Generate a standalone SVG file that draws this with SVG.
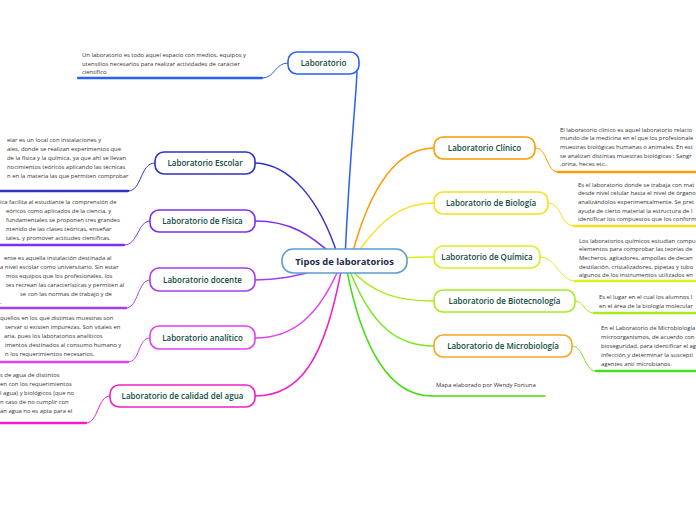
<svg xmlns="http://www.w3.org/2000/svg" width="696" height="520" viewBox="0 0 696 520">
<style>
.bg{fill:#ffffff}
.node rect{fill:#ffffff;stroke-width:1.6}
.lbl{font-family:"Open Sans","Noto Sans",sans-serif;font-weight:600;font-size:8px;fill:#0e4a3c;text-anchor:middle}
.ctr{font-family:"Open Sans","Noto Sans",sans-serif;font-weight:700;font-size:9.4px;fill:#1b2a4a;text-anchor:middle}
.note{font-family:"Open Sans","Noto Sans",sans-serif;font-size:5.9px;fill:#333333}
.con path{fill:none;stroke-width:1.5;stroke-linecap:round}
.ul{fill:none;stroke-width:2.3;stroke-linecap:round}
.tie{fill:none;stroke-width:1}
</style>
<rect class="bg" x="0" y="0" width="696" height="520"/>

<g id="connectors" class="con">
  <path d="M345,258 C350,150 356,100 357,72" stroke="#2b5ff5"/>
  <path d="M338,256 C320,200 290,164 255,163" stroke="#3030c8"/>
  <path d="M336,258 C310,234 290,221 255,221" stroke="#7b2ff7"/>
  <path d="M320,270 C295,276 280,280 255,280" stroke="#a63ef0"/>
  <path d="M340,266 C318,318 292,338 255,338" stroke="#e040f0"/>
  <path d="M342,266 C325,360 300,396 255,396" stroke="#f020c8"/>
  <path d="M352,255 C372,180 400,148 434,148" stroke="#ff9a00"/>
  <path d="M355,256 C382,218 402,203 434,203" stroke="#f5e020"/>
  <path d="M400,258 C415,257 425,257 434,257" stroke="#d8f020"/>
  <path d="M348,266 C372,295 400,301 434,301" stroke="#a6ec20"/>
  <path d="M348,266 C372,330 400,346 434,346" stroke="#7ae822"/>
  <path d="M346,266 C362,350 390,396 432,396" stroke="#44dd11"/>
</g>

<g id="n-center" class="node">
  <rect x="282" y="249" width="125" height="24" rx="11" stroke="#5b9bd5"/>
  <text class="ctr" x="344.5" y="264.5">Tipos de laboratorios</text>
</g>

<g id="n-laboratorio" class="node">
  <rect x="288" y="52" width="71" height="22" rx="9" stroke="#2b5ff5"/>
  <text class="lbl" x="323.5" y="66">Laboratorio</text>
  <path class="tie" d="M288,63 C275,63 275,78 262,78" stroke="#2b5ff5"/>
  <path class="ul" d="M78,78 L262,78" stroke="#2b5ff5"/>
  <text class="note" x="82" y="57">Un laboratorio es todo aquel espacio con medios, equipos y</text>
  <text class="note" x="82" y="66">utensilios necesarios para realizar actividades de carácter</text>
  <text class="note" x="82" y="74">científico</text>
</g>

<g id="n-escolar" class="node">
  <rect x="155" y="152" width="100" height="22" rx="9" stroke="#3030c8"/>
  <text class="lbl" x="205" y="166">Laboratorio Escolar</text>
  <path class="tie" d="M155,163 C140,163 142,191 128,191" stroke="#3030c8"/>
  <path class="ul" d="M-2,191 L128,191" stroke="#3030c8"/>
  <text class="note" x="7" y="142">elar es un local con instalaciones y</text>
  <text class="note" x="7" y="151">ales, donde se realizan experimentos que</text>
  <text class="note" x="7" y="160">de la física y la química, ya que ahí se llevan</text>
  <text class="note" x="7" y="169">nocimientos teóricos aplicando las técnicas</text>
  <text class="note" x="7" y="178">n en la materia las que permiten comprobar</text>
</g>

<g id="n-fisica" class="node">
  <rect x="150" y="210" width="105" height="22" rx="9" stroke="#7b2ff7"/>
  <text class="lbl" x="202.5" y="224">Laboratorio de Física</text>
  <path class="tie" d="M150,221 C138,221 138,245 124,245" stroke="#7b2ff7"/>
  <path class="ul" d="M-2,245 L124,245" stroke="#7b2ff7"/>
  <text class="note" x="0" y="204">ica facilita al estudiante la comprensión de</text>
  <text class="note" x="6" y="213">eóricos como aplicados de la ciencia, y</text>
  <text class="note" x="6" y="222">fundamentales se proponen tres grandes</text>
  <text class="note" x="6" y="231">ntenido de las clases teóricas, enseñar</text>
  <text class="note" x="6" y="240">tales, y promover actitudes científicas.</text>
</g>

<g id="n-docente" class="node">
  <rect x="150" y="268" width="105" height="23" rx="9" stroke="#a63ef0"/>
  <text class="lbl" x="202.5" y="282.5">Laboratorio docente</text>
  <path class="tie" d="M150,280 C138,280 138,308 126,308" stroke="#a63ef0"/>
  <path class="ul" d="M-2,308 L126,308" stroke="#a63ef0"/>
  <text class="note" x="4" y="260">ente es aquella instalación destinada al</text>
  <text class="note" x="0" y="269">a nivel escolar como universitario. Sin estar</text>
  <text class="note" x="6" y="278">mos equipos que los profesionales, los</text>
  <text class="note" x="6" y="287">tes recrean las características y permiten al</text>
  <text class="note" x="20" y="296">se con las normas de trabajo y de</text>
  <text class="note" x="0" y="304">.</text>
</g>

<g id="n-analitico" class="node">
  <rect x="150" y="326" width="105" height="23" rx="9" stroke="#e040f0"/>
  <text class="lbl" x="202.5" y="340.5">Laboratorio analítico</text>
  <path class="tie" d="M150,338 C138,338 140,362 128,362" stroke="#e040f0"/>
  <path class="ul" d="M-2,362 L128,362" stroke="#e040f0"/>
  <text class="note" x="0" y="320">quellos en los que distintas muestras son</text>
  <text class="note" x="5" y="329">servar si existen impurezas. Son vitales en</text>
  <text class="note" x="4" y="338">aria, pues los laboratorios analíticos</text>
  <text class="note" x="5" y="347">imentos destinados al consumo humano y</text>
  <text class="note" x="5" y="356">n los requerimientos necesarios.</text>
</g>

<g id="n-calidad" class="node">
  <rect x="110" y="385" width="145" height="22" rx="9" stroke="#f020c8"/>
  <text class="lbl" x="182.5" y="399">Laboratorio de calidad del agua</text>
  <path class="tie" d="M110,396 C98,396 98,423 86,423" stroke="#f020c8"/>
  <path class="ul" d="M-2,423 L86,423" stroke="#f020c8"/>
  <text class="note" x="0" y="377">s de agua de distintos</text>
  <text class="note" x="0" y="386">en con los requerimientos</text>
  <text class="note" x="0" y="395">l agua) y biológicos (que no</text>
  <text class="note" x="0" y="404">n caso de no cumplir con</text>
  <text class="note" x="0" y="413">an agua no es apta para el</text>
</g>

<g id="n-clinico" class="node">
  <rect x="434" y="137" width="101" height="22" rx="9" stroke="#ff9a00"/>
  <text class="lbl" x="484.5" y="151">Laboratorio Clínico</text>
  <path class="tie" d="M535,148 C548,148 546,172 558,172" stroke="#ff9a00"/>
  <path class="ul" d="M558,172 L698,172" stroke="#ff9a00"/>
  <text class="note" x="560" y="132">El laboratorio clínico es aquel laboratorio relacio</text>
  <text class="note" x="560" y="140">mundo de la medicina en el que los profesionale</text>
  <text class="note" x="560" y="149">muestras biológicas humanas o animales. En est</text>
  <text class="note" x="560" y="158">se analizan distintas muestras biológicas : Sangr</text>
  <text class="note" x="560" y="166">,orina, heces etc..</text>
</g>

<g id="n-biologia" class="node">
  <rect x="434" y="192" width="114" height="22" rx="9" stroke="#f5e020"/>
  <text class="lbl" x="491" y="206">Laboratorio de Biología</text>
  <path class="tie" d="M548,203 C562,203 560,226 574,226" stroke="#f5e020"/>
  <path class="ul" d="M574,226 L698,226" stroke="#f5e020"/>
  <text class="note" x="578" y="187">Es el laboratorio donde se trabaja con mat</text>
  <text class="note" x="578" y="195">desde nivel celular hasta el nivel de órgano</text>
  <text class="note" x="578" y="204">analizándolos experimentalmente. Se pret</text>
  <text class="note" x="578" y="213">ayuda de cierto material la estructura de l</text>
  <text class="note" x="578" y="221">identificar los compuestos que los conform</text>
</g>

<g id="n-quimica" class="node">
  <rect x="434" y="246" width="106" height="22" rx="9" stroke="#d8f020"/>
  <text class="lbl" x="487" y="260">Laboratorio de Química</text>
  <path class="tie" d="M540,257 C556,257 560,281 575,281" stroke="#d8f020"/>
  <path class="ul" d="M575,281 L698,281" stroke="#d8f020"/>
  <text class="note" x="579" y="243">Los laboratorios químicos estudian compu</text>
  <text class="note" x="579" y="251">elementos para comprobar las teorías de</text>
  <text class="note" x="579" y="260">Mecheros, agitadores, ampollas de decan</text>
  <text class="note" x="579" y="269">destilación, cristalizadores, pipetas y tubo</text>
  <text class="note" x="579" y="277">algunos de los instrumentos utilizados en</text>
</g>

<g id="n-biotecnologia" class="node">
  <rect x="434" y="290" width="141" height="22" rx="9" stroke="#a6ec20"/>
  <text class="lbl" x="504.5" y="304">Laboratorio de Biotecnología</text>
  <path class="tie" d="M575,301 C584,301 584,313 594,313" stroke="#a6ec20"/>
  <path class="ul" d="M594,313 L698,313" stroke="#a6ec20"/>
  <text class="note" x="599" y="299">Es el lugar en el cual los alumnos l</text>
  <text class="note" x="599" y="308">en el área de la biología molecular</text>
</g>

<g id="n-microbiologia" class="node">
  <rect x="434" y="335" width="138" height="22" rx="9" stroke="#f5a623"/>
  <text class="lbl" x="503" y="349">Laboratorio de Microbiología</text>
  <path class="tie" d="M572,346 C584,346 584,371 596,371" stroke="#7ae822"/>
  <path class="ul" d="M596,371 L698,371" stroke="#44dd22"/>
  <text class="note" x="601" y="330">En el Laboratorio de Microbiología</text>
  <text class="note" x="601" y="339">microorganismos, de acuerdo con</text>
  <text class="note" x="601" y="348">bioseguridad, para identificar el ag</text>
  <text class="note" x="601" y="357">infección y determinar la suscepti</text>
  <text class="note" x="601" y="366">agentes anti microbianos.</text>
</g>

<g id="n-mapa">
  <text class="note" x="436" y="387">Mapa elaborado por Wendy Fortuna</text>
  <path class="ul" d="M432,396 L545,396" stroke="#44dd11" style="stroke-width:1.6"/>
</g>
</svg>
